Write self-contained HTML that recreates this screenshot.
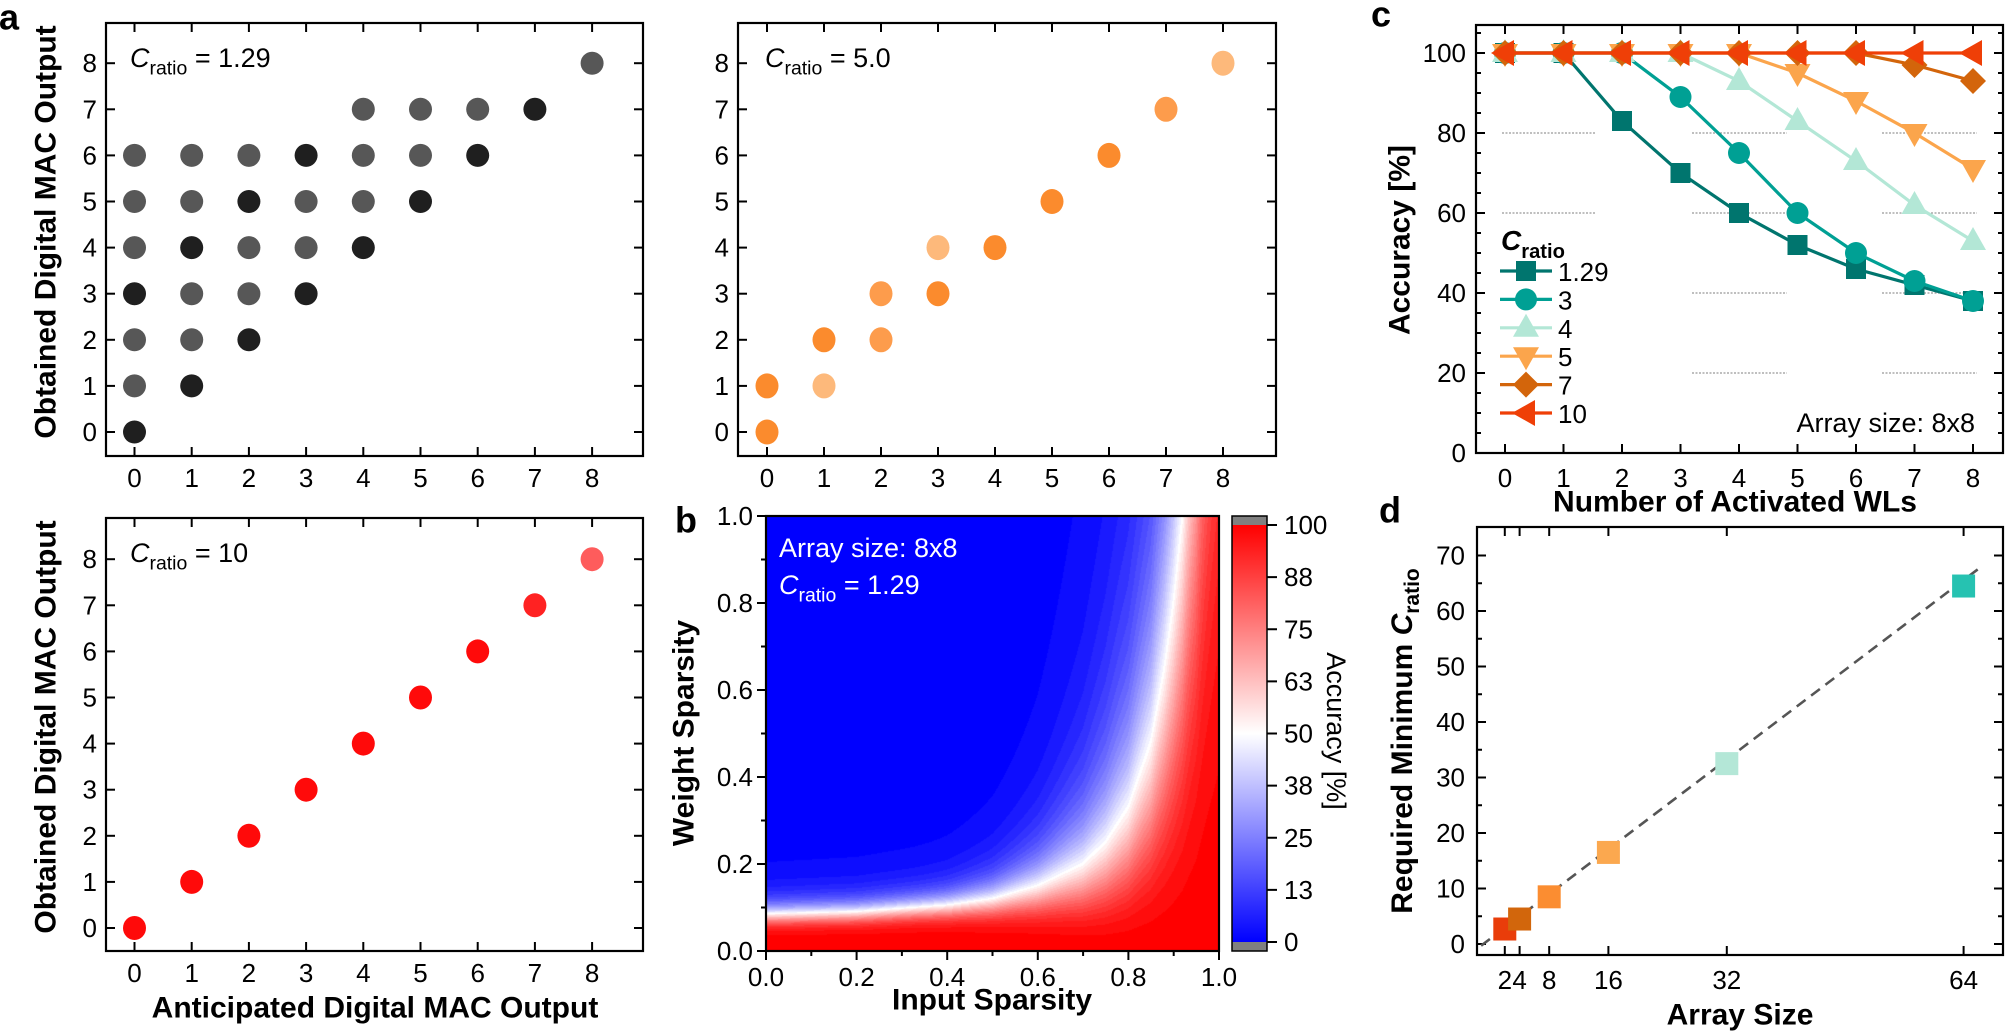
<!DOCTYPE html>
<html><head><meta charset="utf-8">
<style>
html,body{margin:0;padding:0;background:#fff;}
#wrap{position:relative;width:2008px;height:1033px;overflow:hidden;}
svg{position:absolute;left:0;top:0;}
canvas{position:absolute;}
text{font-family:"Liberation Sans",Arial,sans-serif;}
</style></head>
<body><div id="wrap">
<canvas id="hm" width="453" height="435" style="left:766px;top:516px;"></canvas>
<svg id="s" width="2008" height="1033" xmlns="http://www.w3.org/2000/svg">
<defs>
<linearGradient id="cb" x1="0" y1="1" x2="0" y2="0">
<stop offset="0" stop-color="#0000ff"/><stop offset="0.5" stop-color="#ffffff"/><stop offset="1" stop-color="#ff0000"/>
</linearGradient>
</defs>
</svg>
</div>
<script>
var S=document.getElementById('s');var NS='http://www.w3.org/2000/svg';
function el(t,a,p){var e=document.createElementNS(NS,t);for(var k in a)e.setAttribute(k,a[k]);(p||S).appendChild(e);return e;}
function line(x1,y1,x2,y2,st,w,extra){var a={x1:x1,y1:y1,x2:x2,y2:y2,stroke:st||'#000','stroke-width':w||2};for(var k in extra)a[k]=extra[k];return el('line',a);}
function txt(x,y,s,o){o=o||{};var a={x:x,y:y,'font-size':o.fs||26,'text-anchor':o.anc||'middle','dominant-baseline':o.db||'central',fill:o.fill||'#000'};if(o.fw)a['font-weight']=o.fw;if(o.tr)a.transform=o.tr;var e=el('text',a);e.textContent=s;return e;}
function cratio(x,y,rest,o){o=o||{};var fs=o.fs||27;var e=el('text',{x:x,y:y,'font-size':fs,fill:o.fill||'#000','font-weight':o.fw||'normal'});
 var a=document.createElementNS(NS,'tspan');a.setAttribute('font-style','italic');a.textContent='C';e.appendChild(a);
 var b=document.createElementNS(NS,'tspan');b.setAttribute('font-size',fs*0.72);b.setAttribute('dy',fs*0.28);b.textContent='ratio';e.appendChild(b);
 if(rest){var c=document.createElementNS(NS,'tspan');c.setAttribute('dy',-fs*0.28);c.textContent=rest;e.appendChild(c);}return e;}
function frame(L,T,R,B){el('rect',{x:L,y:T,width:R-L,height:B-T,fill:'none',stroke:'#000','stroke-width':2.2});}

/* ---------- panel a scatter ---------- */
function scat(L,T,R,B,x0,dx,y0,dy){
 frame(L,T,R,B);
 for(var v=0;v<=8;v++){var X=x0+dx*v,Y=y0-dy*v;
  line(X,T,X,T+9);line(X,B,X,B-9);line(L,Y,L+9,Y);line(R,Y,R-9,Y);
  txt(X,B+22,String(v));txt(L-9,Y,String(v),{anc:'end'});}
}
var G='#575757',D='#1f1f1f';
var ax0=134.5,adx=57.2,ay0=432,ady=46.1;
scat(106,23,643,456,ax0,adx,ay0,ady);
var a1=[[0,0,D],[0,1,G],[0,2,G],[0,3,D],[0,4,G],[0,5,G],[0,6,G],
[1,1,D],[1,2,G],[1,3,G],[1,4,D],[1,5,G],[1,6,G],
[2,2,D],[2,3,G],[2,4,G],[2,5,D],[2,6,G],
[3,3,D],[3,4,G],[3,5,G],[3,6,D],
[4,4,D],[4,5,G],[4,6,G],[4,7,G],
[5,5,D],[5,6,G],[5,7,G],[6,6,D],[6,7,G],[7,7,D],[8,8,G]];
a1.forEach(function(p){el('circle',{cx:ax0+adx*p[0],cy:ay0-ady*p[1],r:11.5,fill:p[2]});});
cratio(130,67,' = 1.29');
var bx0=767;
scat(738,23,1276,456,bx0,57,ay0,ady);
var O='#fb8b2d',M='#fd9c4c',Lo='#fdb97b';
[[0,0,O],[0,1,O],[1,1,Lo],[1,2,O],[2,2,M],[2,3,M],[3,3,O],[3,4,Lo],[4,4,O],[5,5,O],[6,6,O],[7,7,M],[8,8,Lo]].forEach(function(p){
 el('ellipse',{cx:bx0+57*p[0],cy:ay0-ady*p[1],rx:11.5,ry:12.5,fill:p[2]});});
cratio(765,67,' = 5.0');
var cy0=928;
scat(106,518,643,951,ax0,adx,cy0,ady);
for(var v=0;v<=8;v++){el('ellipse',{cx:ax0+adx*v,cy:cy0-ady*v,rx:11.5,ry:12,fill:v==8?'#fe5c5c':(v==7?'#ff2222':'#ff0a0a')});}
cratio(130,562,' = 10');
txt(46,232,'Obtained Digital MAC Output',{fs:30,fw:'bold',tr:'rotate(-90 46 232)'});
txt(46,727,'Obtained Digital MAC Output',{fs:30,fw:'bold',tr:'rotate(-90 46 727)'});
txt(375,1008,'Anticipated Digital MAC Output',{fs:30,fw:'bold'});
txt(9,17,'a',{fs:36,fw:'bold'});

/* ---------- panel b heatmap ---------- */
(function(){
 var c=document.getElementById('hm'),ctx=c.getContext('2d'),W=453,H=435,img=ctx.createImageData(W,H);
 var tb=[[0,.085],[.2,.09],[.4,.105],[.5,.12],[.6,.15],[.7,.2],[.75,.25],[.8,.33],[.85,.48],[.88,.65],[.9,.8],[.92,1.0],[.95,1.5],[1.0,3.0]];
 function b(x){for(var i=1;i<tb.length;i++){if(x<=tb[i][0]){var t=(x-tb[i-1][0])/(tb[i][0]-tb[i-1][0]);return tb[i-1][1]+t*(tb[i][1]-tb[i-1][1]);}}return 3;}
 function ss(a,b2,x){var t=Math.min(1,Math.max(0,(x-a)/(b2-a)));return t*t*(3-2*t);}
 for(var i=0;i<W;i++){var x=i/(W-1),bb=b(x);var k=5.0-2.8*ss(0.3,0.8,x);
  for(var j=0;j<H;j++){var y=1-j/(H-1);var s=y/bb;var A=1/(1+Math.pow(s,k));
   A=Math.round(A*40)/40;var r,g,bl;
   if(A<0.5){var t=A/0.5;r=255*t;g=255*t;bl=255;}else{var t=(1-A)/0.5;r=255;g=255*t;bl=255*t;}
   var q=(j*W+i)*4;img.data[q]=r;img.data[q+1]=g;img.data[q+2]=bl;img.data[q+3]=255;}}
 ctx.putImageData(img,0,0);
})();
frame(766,516,1219,951);
for(var i=0;i<=10;i++){var v=i/10,X=766+453*v,Y=951-435*v,mj=i%2==0;
 line(X,951,X,951+(mj?9:5));line(766,Y,766-(mj?9:5),Y);
 if(mj){txt(X,977,v.toFixed(1));txt(753,Y,v.toFixed(1),{anc:'end'});}}
el('text',{x:779,y:557,'font-size':27,fill:'#fff'}).textContent='Array size: 8x8';
cratio(779,594,' = 1.29',{fill:'#fff'});
txt(992,1000,'Input Sparsity',{fs:30,fw:'bold'});
txt(684,733,'Weight Sparsity',{fs:30,fw:'bold',tr:'rotate(-90 684 733)'});
txt(686,520,'b',{fs:36,fw:'bold'});
el('rect',{x:1232,y:516,width:35,height:9,fill:'#808080'});
el('rect',{x:1232,y:942,width:35,height:9,fill:'#808080'});
el('rect',{x:1232,y:525,width:35,height:417,fill:'url(#cb)'});
el('rect',{x:1232,y:516,width:35,height:435,fill:'none',stroke:'#000','stroke-width':1.5});
['0','13','25','38','50','63','75','88','100'].forEach(function(s,i){var Y=942-i*417/8;line(1267,Y,1277,Y,'#000',2);txt(1284,Y,s,{anc:'start'});});
txt(1336,731,'Accuracy [%]',{fs:27,tr:'rotate(90 1336 731)'});

/* ---------- panel c ---------- */
var cL=1476,cR=2003,cT=25,cB=453;
function cx(v){return 1505+58.5*v;} function cy(v){return 453-4.0*v;}
[80,60,40,20].forEach(function(v){var segs=(v>=60)?[[1502,1596],[1692,1787],[1882,1977]]:[[1692,1787],[1882,1977]];
 segs.forEach(function(s){line(s[0],cy(v),s[1],cy(v),'#999',1.2,{'stroke-dasharray':'2 1.5'});});});
frame(cL,cT,cR,cB);
for(var v=0;v<=8;v++){line(cx(v),cB,cx(v),cB-9);line(cx(v),cT,cx(v),cT+9);txt(cx(v),478,String(v));}
for(var v=0;v<=105;v+=5){var mj=v%20==0;line(cL,cy(v),cL+(mj?9:5),cy(v));line(cR,cy(v),cR-(mj?9:5),cy(v));if(mj)txt(1466,cy(v),String(v),{anc:'end'});}
function mk(type,x,y,col){
 if(type=='sq')el('rect',{x:x-10,y:y-10,width:20,height:20,fill:col});
 else if(type=='ci')el('circle',{cx:x,cy:y,r:11,fill:col});
 else if(type=='up')el('polygon',{points:(x)+','+(y-14)+' '+(x-13)+','+(y+9)+' '+(x+13)+','+(y+9),fill:col});
 else if(type=='dn')el('polygon',{points:(x)+','+(y+14)+' '+(x-13)+','+(y-9)+' '+(x+13)+','+(y-9),fill:col});
 else if(type=='di')el('polygon',{points:x+','+(y-13)+' '+(x+13)+','+y+' '+x+','+(y+13)+' '+(x-13)+','+y,fill:col});
 else if(type=='lt')el('polygon',{points:(x-14)+','+y+' '+(x+9)+','+(y-13)+' '+(x+9)+','+(y+13),fill:col});}
var ser=[
 ['1.29','sq','#00756e',[100,100,83,70,60,52,46,42,38]],
 ['3','ci','#00a094',[100,100,100,89,75,60,50,43,38]],
 ['4','up','#b3e7d6',[100,100,100,100,93,83,73,62,53]],
 ['5','dn','#fba54c',[100,100,100,100,100,95,88,80,71]],
 ['7','di','#d3650b',[100,100,100,100,100,100,100,97,93]],
 ['10','lt','#ef3f07',[100,100,100,100,100,100,100,100,100]]];
ser.forEach(function(s){var pts=s[3].map(function(v,i){return cx(i)+','+cy(v);}).join(' ');
 el('polyline',{points:pts,fill:'none',stroke:s[2],'stroke-width':3.2});
 s[3].forEach(function(v,i){mk(s[1],cx(i),cy(v),s[2]);});});
cratio(1501,250,'',{fw:'bold',fs:28});
ser.forEach(function(s,i){var Y=271+i*28.4;line(1500,Y,1552,Y,s[2],3.2);mk(s[1],1526,Y,s[2]);txt(1558,Y+1,s[0],{anc:'start'});});
txt(1975,423,'Array size: 8x8',{anc:'end',fs:27});
txt(1735,502,'Number of Activated WLs',{fs:30,fw:'bold'});
txt(1400,240,'Accuracy [%]',{fs:30,fw:'bold',tr:'rotate(-90 1400 240)'});
txt(1381,14,'c',{fs:36,fw:'bold'});

/* ---------- panel d ---------- */
var dL=1477,dR=2003,dT=527,dB=955;
function dx(v){return 1490+7.4*v;} function dy(v){return 944-5.55*v;}
frame(dL,dT,dR,dB);
for(var v=0;v<=70;v+=5){var mj=v%10==0;line(dL,dy(v),dL+(mj?9:5),dy(v));line(dR,dy(v),dR-(mj?9:5),dy(v));if(mj)txt(1465,dy(v),String(v),{anc:'end'});}
[2,4,8,16,32,64].forEach(function(v){line(dx(v),dB,dx(v),dB-9);line(dx(v),dT,dx(v),dT+9);txt(dx(v),980,String(v));});
line(dx(-1.2),dy(-0.3),dx(66.6),dy(68.2),'#555',2.6,{'stroke-dasharray':'11 7'});
[[2,2.7,'#e93d0a'],[4,4.5,'#d2660c'],[8,8.5,'#fb8d31'],[16,16.5,'#fba84f'],[32,32.5,'#b4e7d7'],[64,64.5,'#26c2b1']].forEach(function(p){
 el('rect',{x:dx(p[0])-11.5,y:dy(p[1])-11.5,width:23,height:23,fill:p[2]});});
txt(1740,1015,'Array Size',{fs:30,fw:'bold'});
(function(){var e=el('text',{x:0,y:0,'font-size':30,'font-weight':'bold','text-anchor':'middle',transform:'translate(1412 741) rotate(-90)'});
 e.appendChild(document.createTextNode('Required Minimum '));
 var a=document.createElementNS(NS,'tspan');a.setAttribute('font-style','italic');a.textContent='C';e.appendChild(a);
 var b=document.createElementNS(NS,'tspan');b.setAttribute('font-size',21);b.setAttribute('dy',7);b.textContent='ratio';e.appendChild(b);})();
txt(1390,510,'d',{fs:36,fw:'bold'});
</script>
</body></html>
